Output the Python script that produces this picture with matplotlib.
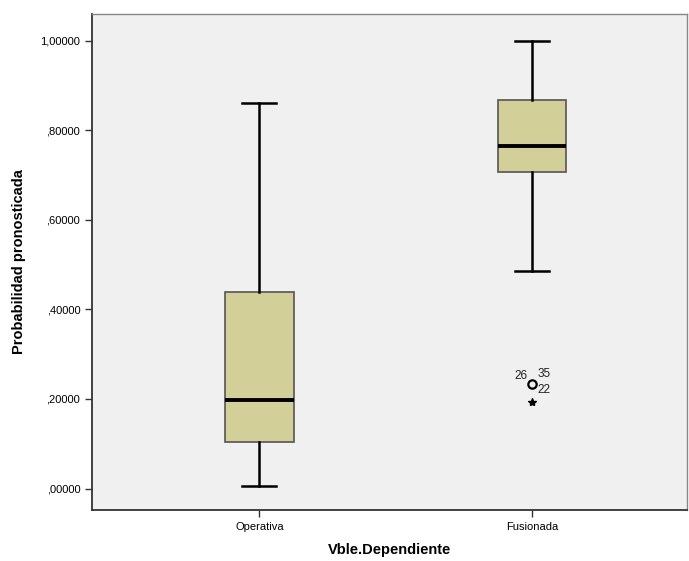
import matplotlib
matplotlib.use("Agg")
import matplotlib.pyplot as plt

plt.rcParams['font.family'] = ['Liberation Sans', 'DejaVu Sans']

categories = ["Operativa", "Fusionada"]
whislo = [0.006, 0.486]
q1 = [0.104, 0.707]
med = [0.198, 0.765]
q3 = [0.440, 0.868]
whishi = [0.861, 1.000]
outliers_circle = [[], [0.233]]
outliers_star = [[], [0.194]]
outlier_labels = [("26", -0.04, 0.018), ("35", 0.045, 0.023), ("22", 0.045, -0.012)]
yticks = [0.0, 0.2, 0.4, 0.6, 0.8, 1.0]
yticklabels = [",00000", ",20000", ",40000", ",60000", ",80000", "1,00000"]

fig = plt.figure(figsize=(6.89, 5.61), dpi=100)
ax = fig.add_axes([92/689, 1-510/561, (687-92)/689, (510-14)/561])
ax.set_facecolor("#F0F0F0")

stats = []
for i, c in enumerate(categories):
    stats.append(dict(label=c, whislo=whislo[i], q1=q1[i], med=med[i], q3=q3[i],
                      whishi=whishi[i], fliers=[]))
pos = [1, 2]
ax.bxp(stats, positions=pos, widths=0.252, patch_artist=True, showfliers=False,
       boxprops=dict(facecolor="#D3CF99", edgecolor="#555555", linewidth=1.2),
       medianprops=dict(color="black", linewidth=2.8),
       whiskerprops=dict(color="black", linewidth=1.8),
       capprops=dict(color="black", linewidth=1.8), capwidths=0.125)

for i, p in enumerate(pos):
    for v in outliers_circle[i]:
        ax.plot([p], [v], marker="o", markersize=6, markerfacecolor="none",
                markeredgecolor="black", markeredgewidth=1.6, linestyle="none")
        for txt, dx, dy in outlier_labels:
            ax.text(p + dx, v + dy, txt, ha="center", va="center", fontsize=8.5, color="#222222")
    for v in outliers_star[i]:
        ax.plot([p], [v], marker="*", markersize=6, color="black", linestyle="none")

ax.set_xlim(0.3865, 2.568)
ax.set_ylim(-0.048, 1.060)
ax.set_yticks(yticks)
ax.set_yticklabels(yticklabels, fontsize=8)
ax.set_xticks(pos)
ax.set_xticklabels(categories, fontsize=8)
ax.tick_params(axis="both", direction="out", length=5, width=1, color="#333333")
ax.set_ylabel("Probabilidad pronosticada", fontsize=10.5, fontweight="bold", labelpad=10)
ax.set_xlabel("Vble.Dependiente", fontsize=10.5, fontweight="bold", labelpad=8)

for s in ["left", "bottom"]:
    ax.spines[s].set_color("#333333")
    ax.spines[s].set_linewidth(1.3)
for s in ["top", "right"]:
    ax.spines[s].set_color("#888888")
    ax.spines[s].set_linewidth(1.0)

fig.savefig("out.png", dpi=100, facecolor="white")
